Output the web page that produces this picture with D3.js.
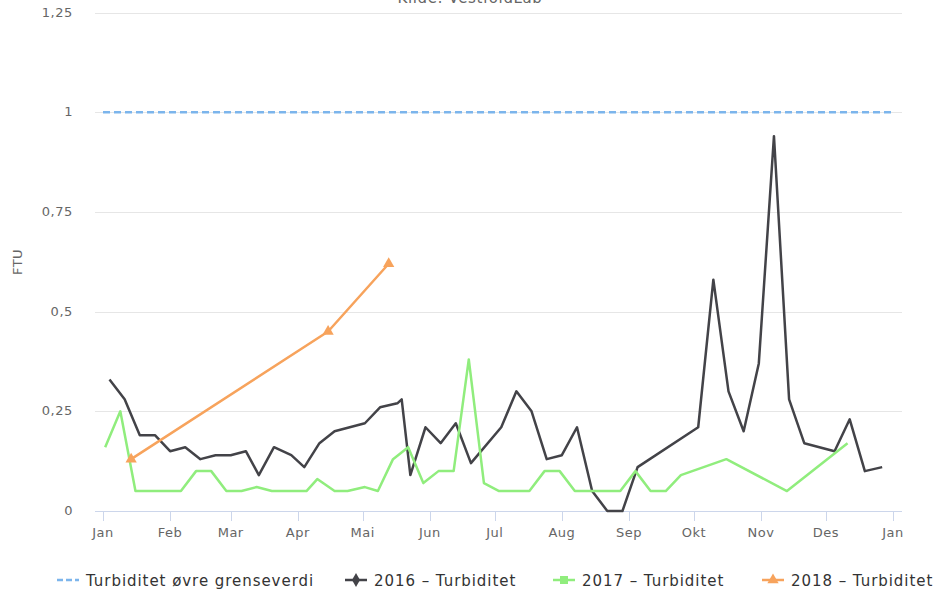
<!DOCTYPE html>
<html>
<head>
<meta charset="utf-8">
<script src="https://cdn.jsdelivr.net/npm/d3@7"></script>
<style>
  body { margin: 0; background: #fff; }
  text { font-family: "DejaVu Sans", sans-serif; }
</style>
</head>
<body>
<div id="chart"></div>
<script>
// Month labels on the x axis (Norwegian)
const monthLabels = ["Jan", "Feb", "Mar", "Apr", "Mai", "Jun", "Jul", "Aug", "Sep", "Okt", "Nov", "Des", "Jan"];
const yTicks = [0, 0.25, 0.5, 0.75, 1, 1.25];

// Upper limit
const limitValues = [1, 1];

// 2016 - Turbiditet
const dates2016 = ["01-04", "01-11", "01-18", "01-25", "02-01", "02-08", "02-15", "02-22", "03-01", "03-08",
  "03-14", "03-21", "03-29", "04-04", "04-11", "04-18", "04-25", "05-02", "05-09", "05-17",
  "05-19", "05-23", "05-30", "06-06", "06-13", "06-20", "07-04", "07-11", "07-18", "07-25",
  "08-01", "08-08", "08-15", "08-22", "08-29", "09-05", "10-03", "10-10", "10-17", "10-24",
  "10-31", "11-07", "11-14", "11-21", "12-05", "12-12", "12-19", "12-27"];
const values2016 = [0.33, 0.28, 0.19, 0.19, 0.15, 0.16, 0.13, 0.14, 0.14, 0.15,
  0.09, 0.16, 0.14, 0.11, 0.17, 0.20, 0.21, 0.22, 0.26, 0.27,
  0.28, 0.09, 0.21, 0.17, 0.22, 0.12, 0.21, 0.30, 0.25, 0.13,
  0.14, 0.21, 0.05, 0, 0, 0.11, 0.21, 0.58, 0.30, 0.20,
  0.37, 0.94, 0.28, 0.17, 0.15, 0.23, 0.10, 0.11];

// 2017 - Turbiditet
const dates2017 = ["01-02", "01-09", "01-16", "01-23", "01-30", "02-06", "02-13", "02-20", "02-27", "03-06",
  "03-13", "03-20", "03-27", "04-05", "04-10", "04-18", "04-24", "05-02", "05-08", "05-15",
  "05-22", "05-29", "06-05", "06-12", "06-19", "06-26", "07-03", "07-10", "07-17", "07-24",
  "07-31", "08-07", "08-14", "08-21", "08-28", "09-04", "09-11", "09-18", "09-25", "10-16",
  "11-13", "12-11"];
const values2017 = [0.16, 0.25, 0.05, 0.05, 0.05, 0.05, 0.10, 0.10, 0.05, 0.05,
  0.06, 0.05, 0.05, 0.05, 0.08, 0.05, 0.05, 0.06, 0.05, 0.13,
  0.16, 0.07, 0.10, 0.10, 0.38, 0.07, 0.05, 0.05, 0.05, 0.10,
  0.10, 0.05, 0.05, 0.05, 0.05, 0.10, 0.05, 0.05, 0.09, 0.13,
  0.05, 0.17];

// 2018 - Turbiditet
const dates2018 = ["01-14", "04-15", "05-13"];
const values2018 = [0.13, 0.45, 0.62];

const parseDay = d3.timeParse("%Y-%m-%d");
function toPoints(dates, values) {
    return dates.map((d, i) => ({ date: parseDay("2017-" + d), value: values[i] }));
}

const series = [
    { name: "Turbiditet øvre grenseverdi", color: "#7cb5ec", dash: "7,4", marker: null,
      data: [{ date: parseDay("2017-01-01"), value: limitValues[0] }, { date: parseDay("2018-01-01"), value: limitValues[1] }] },
    { name: "2016 – Turbiditet", color: "#434348", dash: null, marker: "diamond", data: toPoints(dates2016, values2016) },
    { name: "2017 – Turbiditet", color: "#90ed7d", dash: null, marker: "square", data: toPoints(dates2017, values2017) },
    { name: "2018 – Turbiditet", color: "#f7a35c", dash: null, marker: "triangle", data: toPoints(dates2018, values2018), showMarkers: true }
];

const width = 941, height = 596;
const plot = { left: 95, right: 902, top: 12.5, bottom: 511 };

const svg = d3.select("#chart").append("svg")
    .attr("width", width)
    .attr("height", height);

const x = d3.scaleTime()
    .domain([parseDay("2017-01-01"), parseDay("2018-01-01")])
    .range([103, 893]);

const y = d3.scaleLinear()
    .domain([0, 1.25])
    .range([plot.bottom, plot.top]);

// Subtitle (partly cut at the top, as in the original)
svg.append("text")
    .attr("x", 470)
    .attr("y", 3)
    .attr("text-anchor", "middle")
    .style("font-size", "15px")
    .style("letter-spacing", "0.6px")
    .style("fill", "#666")
    .text("Kilde: VestfoldLab");

// Grid lines
svg.append("g")
    .selectAll("line")
    .data(yTicks.filter(t => t > 0))
    .enter().append("line")
    .attr("x1", plot.left)
    .attr("x2", plot.right)
    .attr("y1", d => Math.round(y(d)) + 0.5)
    .attr("y2", d => Math.round(y(d)) + 0.5)
    .attr("stroke", "#e6e6e6")
    .attr("stroke-width", 1);

// Y labels
const fmt = d => String(d).replace(".", ",");
svg.append("g")
    .selectAll("text")
    .data(yTicks)
    .enter().append("text")
    .attr("x", 73)
    .attr("y", d => y(d) + 4)
    .attr("text-anchor", "end")
    .style("font-size", "13px")
    .style("letter-spacing", "0.6px")
    .style("fill", "#666")
    .text(fmt);

// Y axis title
svg.append("text")
    .attr("transform", "translate(22," + 262 + ") rotate(-90)")
    .attr("text-anchor", "middle")
    .style("font-size", "13px")
    .style("letter-spacing", "0.5px")
    .style("fill", "#666")
    .text("FTU");

// X axis
const monthTicks = d3.timeMonth.range(parseDay("2017-01-01"), parseDay("2018-01-02"));
const xAxis = svg.append("g")
    .attr("transform", "translate(0," + plot.bottom + ")");

xAxis.append("line")
    .attr("x1", plot.left)
    .attr("x2", plot.right)
    .attr("y1", 0.5)
    .attr("y2", 0.5)
    .attr("stroke", "#ccd6eb");

xAxis.selectAll(".tick")
    .data(monthTicks)
    .enter().append("line")
    .attr("x1", d => Math.round(x(d)) + 0.5)
    .attr("x2", d => Math.round(x(d)) + 0.5)
    .attr("y1", 0)
    .attr("y2", 10)
    .attr("stroke", "#ccd6eb");

xAxis.selectAll(".label")
    .data(monthTicks)
    .enter().append("text")
    .attr("x", d => x(d))
    .attr("y", 26)
    .attr("text-anchor", "middle")
    .style("font-size", "13px")
    .style("letter-spacing", "0.5px")
    .style("fill", "#666")
    .text((d, i) => monthLabels[i]);

// Lines
const line = d3.line()
    .x(d => x(d.date))
    .y(d => y(d.value));

function markerPath(type, size) {
    const sym = type === "diamond" ? d3.symbolDiamond : type === "square" ? d3.symbolSquare : d3.symbolTriangle;
    return d3.symbol().type(sym).size(size)();
}

series.forEach(s => {
    svg.append("path")
        .datum(s.data)
        .attr("d", line)
        .attr("fill", "none")
        .attr("stroke", s.color)
        .attr("stroke-width", 2.5)
        .attr("stroke-linejoin", "round")
        .attr("stroke-dasharray", s.dash);

    if (s.showMarkers) {
        svg.append("g")
            .selectAll("path")
            .data(s.data)
            .enter().append("path")
            .attr("transform", d => "translate(" + x(d.date) + "," + y(d.value) + ")")
            .attr("d", markerPath(s.marker, 55))
            .attr("fill", s.color);
    }
});

// Legend
const legendX = [57, 345, 553, 762];
const legend = svg.append("g").attr("transform", "translate(0,580)");
series.forEach((s, i) => {
    const g = legend.append("g").attr("transform", "translate(" + legendX[i] + ",0)");
    g.append("line")
        .attr("x1", 0)
        .attr("x2", 22)
        .attr("y1", 0)
        .attr("y2", 0)
        .attr("stroke", s.color)
        .attr("stroke-width", 2.5)
        .attr("stroke-dasharray", s.dash ? "6,3" : null);
    if (s.marker) {
        g.append("path")
            .attr("transform", "translate(11,0)")
            .attr("d", markerPath(s.marker, s.marker === "square" ? 64 : 55))
            .attr("fill", s.color);
    }
    g.append("text")
        .attr("x", 29)
        .attr("y", 6)
        .style("font-size", "15px")
        .style("letter-spacing", "0.95px")
        .style("fill", "#333")
        .text(s.name);
});
</script>
</body>
</html>
